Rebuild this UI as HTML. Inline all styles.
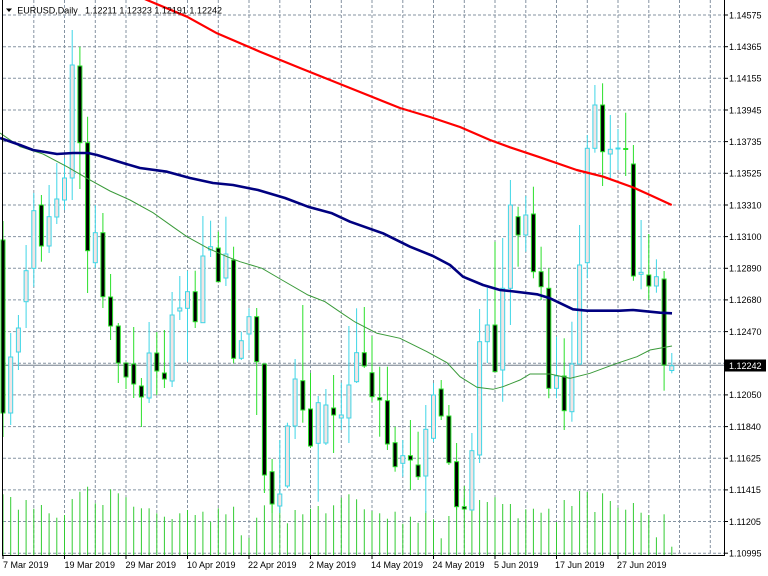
<!DOCTYPE html>
<html><head><meta charset="utf-8"><style>
html,body{margin:0;padding:0;background:#fff;width:768px;height:576px;overflow:hidden}
svg{position:absolute;left:0;top:0;display:block}
text{font-family:"Liberation Sans",sans-serif;font-size:9px;fill:#000}
.g{stroke:#8593a2;stroke-width:1;stroke-dasharray:3 2;fill:none}
.uw{stroke:#3fd6e6;stroke-width:1}
.dw{stroke:#2ae02a;stroke-width:1}
.ub{fill:#f2e4e4;stroke:#3fd6e6;stroke-width:1}
.db{fill:#000;stroke:#2ae02a;stroke-width:1}
.v{stroke:#33cc33;stroke-width:1}
</style></head><body>
<svg width="768" height="576" viewBox="0 0 768 576" xmlns="http://www.w3.org/2000/svg">
<rect x="0" y="0" width="768" height="576" fill="#fff"/>
<!-- horizontal grid -->
<g class="g">
<line x1="3" x2="724" y1="15" y2="15"/>
<line x1="3" x2="724" y1="46.7" y2="46.7"/>
<line x1="3" x2="724" y1="78.3" y2="78.3"/>
<line x1="3" x2="724" y1="110" y2="110"/>
<line x1="3" x2="724" y1="141.6" y2="141.6"/>
<line x1="3" x2="724" y1="173.3" y2="173.3"/>
<line x1="3" x2="724" y1="205" y2="205"/>
<line x1="3" x2="724" y1="236.6" y2="236.6"/>
<line x1="3" x2="724" y1="268.3" y2="268.3"/>
<line x1="3" x2="724" y1="299.9" y2="299.9"/>
<line x1="3" x2="724" y1="331.6" y2="331.6"/>
<line x1="3" x2="724" y1="363.3" y2="363.3"/>
<line x1="3" x2="724" y1="394.9" y2="394.9"/>
<line x1="3" x2="724" y1="426.6" y2="426.6"/>
<line x1="3" x2="724" y1="458.2" y2="458.2"/>
<line x1="3" x2="724" y1="489.9" y2="489.9"/>
<line x1="3" x2="724" y1="521.5" y2="521.5"/>
<line x1="3" x2="724" y1="553.2" y2="553.2"/>
</g>
<!-- vertical grid -->
<g class="g">
<line x1="33.8" x2="33.8" y1="0" y2="555"/>
<line x1="64.5" x2="64.5" y1="0" y2="555"/>
<line x1="95.3" x2="95.3" y1="0" y2="555"/>
<line x1="126" x2="126" y1="0" y2="555"/>
<line x1="156.8" x2="156.8" y1="0" y2="555"/>
<line x1="187.5" x2="187.5" y1="0" y2="555"/>
<line x1="218.3" x2="218.3" y1="0" y2="555"/>
<line x1="249" x2="249" y1="0" y2="555"/>
<line x1="279.8" x2="279.8" y1="0" y2="555"/>
<line x1="310.5" x2="310.5" y1="0" y2="555"/>
<line x1="341.3" x2="341.3" y1="0" y2="555"/>
<line x1="372" x2="372" y1="0" y2="555"/>
<line x1="402.8" x2="402.8" y1="0" y2="555"/>
<line x1="433.5" x2="433.5" y1="0" y2="555"/>
<line x1="464.3" x2="464.3" y1="0" y2="555"/>
<line x1="495" x2="495" y1="0" y2="555"/>
<line x1="525.8" x2="525.8" y1="0" y2="555"/>
<line x1="556.5" x2="556.5" y1="0" y2="555"/>
<line x1="587.3" x2="587.3" y1="0" y2="555"/>
<line x1="618" x2="618" y1="0" y2="555"/>
<line x1="648.8" x2="648.8" y1="0" y2="555"/>
<line x1="679.5" x2="679.5" y1="0" y2="555"/>
<line x1="710.3" x2="710.3" y1="0" y2="555"/>
</g>
<!-- volumes -->
<g class="v">
<line x1="3.0" x2="3.0" y1="555" y2="494.3"/>
<line x1="10.7" x2="10.7" y1="555" y2="497"/>
<line x1="18.4" x2="18.4" y1="555" y2="509.7"/>
<line x1="26.1" x2="26.1" y1="555" y2="500"/>
<line x1="33.8" x2="33.8" y1="555" y2="508.7"/>
<line x1="41.4" x2="41.4" y1="555" y2="505"/>
<line x1="49.1" x2="49.1" y1="555" y2="513.3"/>
<line x1="56.8" x2="56.8" y1="555" y2="517.7"/>
<line x1="64.5" x2="64.5" y1="555" y2="515"/>
<line x1="72.2" x2="72.2" y1="555" y2="499"/>
<line x1="79.9" x2="79.9" y1="555" y2="491.7"/>
<line x1="87.6" x2="87.6" y1="555" y2="486.7"/>
<line x1="95.3" x2="95.3" y1="555" y2="503.3"/>
<line x1="102.9" x2="102.9" y1="555" y2="505"/>
<line x1="110.6" x2="110.6" y1="555" y2="489.3"/>
<line x1="118.3" x2="118.3" y1="555" y2="493.3"/>
<line x1="126.0" x2="126.0" y1="555" y2="497.3"/>
<line x1="133.7" x2="133.7" y1="555" y2="506.7"/>
<line x1="141.4" x2="141.4" y1="555" y2="508.3"/>
<line x1="149.1" x2="149.1" y1="555" y2="508.3"/>
<line x1="156.8" x2="156.8" y1="555" y2="513.3"/>
<line x1="164.4" x2="164.4" y1="555" y2="516.7"/>
<line x1="172.1" x2="172.1" y1="555" y2="519"/>
<line x1="179.8" x2="179.8" y1="555" y2="513.3"/>
<line x1="187.5" x2="187.5" y1="555" y2="510"/>
<line x1="195.2" x2="195.2" y1="555" y2="515"/>
<line x1="202.9" x2="202.9" y1="555" y2="511.7"/>
<line x1="210.6" x2="210.6" y1="555" y2="521.7"/>
<line x1="218.3" x2="218.3" y1="555" y2="508.3"/>
<line x1="225.9" x2="225.9" y1="555" y2="514.3"/>
<line x1="233.6" x2="233.6" y1="555" y2="506.7"/>
<line x1="241.3" x2="241.3" y1="555" y2="535.3"/>
<line x1="249.0" x2="249.0" y1="555" y2="537.7"/>
<line x1="256.7" x2="256.7" y1="555" y2="517.7"/>
<line x1="264.4" x2="264.4" y1="555" y2="505.3"/>
<line x1="272.1" x2="272.1" y1="555" y2="495"/>
<line x1="279.8" x2="279.8" y1="555" y2="508"/>
<line x1="287.4" x2="287.4" y1="555" y2="523.3"/>
<line x1="295.1" x2="295.1" y1="555" y2="510"/>
<line x1="302.8" x2="302.8" y1="555" y2="514.3"/>
<line x1="310.5" x2="310.5" y1="555" y2="508.7"/>
<line x1="318.2" x2="318.2" y1="555" y2="506"/>
<line x1="325.9" x2="325.9" y1="555" y2="513.3"/>
<line x1="333.6" x2="333.6" y1="555" y2="505.3"/>
<line x1="341.3" x2="341.3" y1="555" y2="497.7"/>
<line x1="348.9" x2="348.9" y1="555" y2="494.3"/>
<line x1="356.6" x2="356.6" y1="555" y2="499.3"/>
<line x1="364.3" x2="364.3" y1="555" y2="509.3"/>
<line x1="372.0" x2="372.0" y1="555" y2="511"/>
<line x1="379.7" x2="379.7" y1="555" y2="513.3"/>
<line x1="387.4" x2="387.4" y1="555" y2="518.7"/>
<line x1="395.1" x2="395.1" y1="555" y2="511.7"/>
<line x1="402.8" x2="402.8" y1="555" y2="523.7"/>
<line x1="410.4" x2="410.4" y1="555" y2="516.7"/>
<line x1="418.1" x2="418.1" y1="555" y2="522.7"/>
<line x1="425.8" x2="425.8" y1="555" y2="511"/>
<line x1="433.5" x2="433.5" y1="555" y2="519.3"/>
<line x1="441.2" x2="441.2" y1="555" y2="538.3"/>
<line x1="448.9" x2="448.9" y1="555" y2="516"/>
<line x1="456.6" x2="456.6" y1="555" y2="507.7"/>
<line x1="464.3" x2="464.3" y1="555" y2="486"/>
<line x1="471.9" x2="471.9" y1="555" y2="497.7"/>
<line x1="479.6" x2="479.6" y1="555" y2="500"/>
<line x1="487.3" x2="487.3" y1="555" y2="502"/>
<line x1="495.0" x2="495.0" y1="555" y2="497.3"/>
<line x1="502.7" x2="502.7" y1="555" y2="504"/>
<line x1="510.4" x2="510.4" y1="555" y2="504"/>
<line x1="518.1" x2="518.1" y1="555" y2="518.3"/>
<line x1="525.8" x2="525.8" y1="555" y2="509.3"/>
<line x1="533.4" x2="533.4" y1="555" y2="508.7"/>
<line x1="541.1" x2="541.1" y1="555" y2="512.7"/>
<line x1="548.8" x2="548.8" y1="555" y2="508.7"/>
<line x1="556.5" x2="556.5" y1="555" y2="522"/>
<line x1="564.2" x2="564.2" y1="555" y2="500"/>
<line x1="571.9" x2="571.9" y1="555" y2="506"/>
<line x1="579.6" x2="579.6" y1="555" y2="491"/>
<line x1="587.3" x2="587.3" y1="555" y2="492"/>
<line x1="594.9" x2="594.9" y1="555" y2="512"/>
<line x1="602.6" x2="602.6" y1="555" y2="493.3"/>
<line x1="610.3" x2="610.3" y1="555" y2="501"/>
<line x1="618.0" x2="618.0" y1="555" y2="507.7"/>
<line x1="625.7" x2="625.7" y1="555" y2="509.7"/>
<line x1="633.4" x2="633.4" y1="555" y2="503"/>
<line x1="641.1" x2="641.1" y1="555" y2="512.7"/>
<line x1="648.8" x2="648.8" y1="555" y2="515"/>
<line x1="656.4" x2="656.4" y1="555" y2="537.3"/>
<line x1="664.1" x2="664.1" y1="555" y2="514.3"/>
<line x1="671.8" x2="671.8" y1="555" y2="546.7"/>
</g>
<!-- current price line -->
<line x1="3" x2="724" y1="365.3" y2="365.3" stroke="#98a0aa" stroke-width="1.3"/>
<!-- candles -->
<g>
<line class="dw" x1="3.0" x2="3.0" y1="221" y2="437"/><rect class="db" x="1.0" y="240" width="4" height="173"/>
<line class="uw" x1="10.7" x2="10.7" y1="333" y2="425"/><rect class="ub" x="8.7" y="357" width="4" height="56"/>
<line class="uw" x1="18.4" x2="18.4" y1="315" y2="370"/><rect class="ub" x="16.4" y="328" width="4" height="24"/>
<line class="uw" x1="26.1" x2="26.1" y1="245" y2="328"/><rect class="ub" x="24.1" y="270.7" width="4" height="31"/>
<line class="uw" x1="33.8" x2="33.8" y1="193" y2="286.7"/><rect class="ub" x="31.8" y="210.7" width="4" height="57.6"/>
<line class="dw" x1="41.4" x2="41.4" y1="195" y2="261.7"/><rect class="db" x="39.4" y="205" width="4" height="41"/>
<line class="uw" x1="49.1" x2="49.1" y1="185" y2="253"/><rect class="ub" x="47.1" y="216.7" width="4" height="29.3"/>
<line class="uw" x1="56.8" x2="56.8" y1="163" y2="224"/><rect class="ub" x="54.8" y="199" width="4" height="18"/>
<line class="uw" x1="64.5" x2="64.5" y1="158" y2="210"/><rect class="ub" x="62.5" y="178" width="4" height="22"/>
<line class="uw" x1="72.2" x2="72.2" y1="30" y2="200"/><rect class="ub" x="70.2" y="65" width="4" height="113"/>
<line class="dw" x1="79.9" x2="79.9" y1="46.7" y2="189"/><rect class="db" x="77.9" y="66" width="4" height="76.7"/>
<line class="dw" x1="87.6" x2="87.6" y1="116.7" y2="293"/><rect class="db" x="85.6" y="142.7" width="4" height="108"/>
<line class="uw" x1="95.3" x2="95.3" y1="205" y2="268"/><rect class="ub" x="93.3" y="232.7" width="4" height="30"/>
<line class="dw" x1="102.9" x2="102.9" y1="213" y2="308"/><rect class="db" x="100.9" y="232.7" width="4" height="64"/>
<line class="dw" x1="110.6" x2="110.6" y1="274" y2="340"/><rect class="db" x="108.6" y="297" width="4" height="29"/>
<line class="dw" x1="118.3" x2="118.3" y1="323" y2="383"/><rect class="db" x="116.3" y="326" width="4" height="37"/>
<line class="dw" x1="126.0" x2="126.0" y1="363" y2="389"/><rect class="db" x="124.0" y="363" width="4" height="14"/>
<line class="dw" x1="133.7" x2="133.7" y1="327" y2="398"/><rect class="db" x="131.7" y="364" width="4" height="20"/>
<line class="dw" x1="141.4" x2="141.4" y1="378" y2="427"/><rect class="db" x="139.4" y="386" width="4" height="11"/>
<line class="uw" x1="149.1" x2="149.1" y1="322" y2="403"/><rect class="ub" x="147.1" y="353" width="4" height="45"/>
<line class="dw" x1="156.8" x2="156.8" y1="332" y2="395"/><rect class="db" x="154.8" y="353" width="4" height="18"/>
<line class="dw" x1="164.4" x2="164.4" y1="330" y2="388"/><rect class="db" x="162.4" y="373" width="4" height="6"/>
<line class="uw" x1="172.1" x2="172.1" y1="292" y2="387"/><rect class="ub" x="170.1" y="315" width="4" height="66"/>
<line class="uw" x1="179.8" x2="179.8" y1="276" y2="320"/><rect class="ub" x="177.8" y="308" width="4" height="3"/>
<line class="uw" x1="187.5" x2="187.5" y1="270.7" y2="361.7"/><rect class="ub" x="185.5" y="291.7" width="4" height="16.6"/>
<line class="dw" x1="195.2" x2="195.2" y1="270.7" y2="328"/><rect class="db" x="193.2" y="291.7" width="4" height="30"/>
<line class="uw" x1="202.9" x2="202.9" y1="216" y2="323"/><rect class="ub" x="200.9" y="256" width="4" height="66.7"/>
<line class="uw" x1="210.6" x2="210.6" y1="220.7" y2="257"/><rect class="ub" x="208.6" y="246.7" width="4" height="3.3"/>
<line class="dw" x1="218.3" x2="218.3" y1="231.7" y2="281.7"/><rect class="db" x="216.3" y="248" width="4" height="33.7"/>
<line class="uw" x1="225.9" x2="225.9" y1="216.7" y2="286"/><rect class="ub" x="223.9" y="254" width="4" height="24"/>
<line class="dw" x1="233.6" x2="233.6" y1="246.7" y2="363.3"/><rect class="db" x="231.6" y="260" width="4" height="98.3"/>
<line class="uw" x1="241.3" x2="241.3" y1="331.7" y2="360"/><rect class="ub" x="239.3" y="340.7" width="4" height="17.6"/>
<line class="uw" x1="249.0" x2="249.0" y1="308.3" y2="350"/><rect class="ub" x="247.0" y="316.7" width="4" height="17.3"/>
<line class="dw" x1="256.7" x2="256.7" y1="308" y2="415"/><rect class="db" x="254.7" y="316.7" width="4" height="45"/>
<line class="dw" x1="264.4" x2="264.4" y1="364" y2="493"/><rect class="db" x="262.4" y="364" width="4" height="111"/>
<line class="dw" x1="272.1" x2="272.1" y1="459" y2="513"/><rect class="db" x="270.1" y="471.7" width="4" height="32.3"/>
<line class="uw" x1="279.8" x2="279.8" y1="440" y2="513"/><rect class="ub" x="277.8" y="494" width="4" height="12"/>
<line class="uw" x1="287.4" x2="287.4" y1="422.7" y2="488"/><rect class="ub" x="285.4" y="426" width="4" height="60"/>
<line class="uw" x1="295.1" x2="295.1" y1="359" y2="439"/><rect class="ub" x="293.1" y="379" width="4" height="47"/>
<line class="dw" x1="302.8" x2="302.8" y1="305" y2="422.7"/><rect class="db" x="300.8" y="380.7" width="4" height="29.3"/>
<line class="dw" x1="310.5" x2="310.5" y1="373" y2="448"/><rect class="db" x="308.5" y="409" width="4" height="37"/>
<line class="uw" x1="318.2" x2="318.2" y1="396" y2="501.7"/><rect class="ub" x="316.2" y="402.7" width="4" height="40.6"/>
<line class="uw" x1="325.9" x2="325.9" y1="389" y2="445"/><rect class="ub" x="323.9" y="405" width="4" height="38"/>
<line class="dw" x1="333.6" x2="333.6" y1="375" y2="453"/><rect class="db" x="331.6" y="408" width="4" height="7"/>
<line class="uw" x1="341.3" x2="341.3" y1="382.7" y2="430"/><rect class="ub" x="339.3" y="415" width="4" height="3"/>
<line class="uw" x1="348.9" x2="348.9" y1="326" y2="443"/><rect class="ub" x="346.9" y="385" width="4" height="33"/>
<line class="uw" x1="356.6" x2="356.6" y1="308.3" y2="383"/><rect class="ub" x="354.6" y="352.7" width="4" height="29"/>
<line class="dw" x1="364.3" x2="364.3" y1="307" y2="368"/><rect class="db" x="362.3" y="352.7" width="4" height="13.3"/>
<line class="dw" x1="372.0" x2="372.0" y1="336" y2="401.7"/><rect class="db" x="370.0" y="372.7" width="4" height="24"/>
<line class="dw" x1="379.7" x2="379.7" y1="366.7" y2="436.7"/><rect class="db" x="377.7" y="397.7" width="4" height="2.3"/>
<line class="dw" x1="387.4" x2="387.4" y1="366.7" y2="450"/><rect class="db" x="385.4" y="400.7" width="4" height="43.3"/>
<line class="dw" x1="395.1" x2="395.1" y1="426.7" y2="471.7"/><rect class="db" x="393.1" y="442.7" width="4" height="24"/>
<line class="uw" x1="402.8" x2="402.8" y1="440" y2="476.7"/><rect class="ub" x="400.8" y="455.7" width="4" height="7.6"/>
<line class="dw" x1="410.4" x2="410.4" y1="420" y2="490"/><rect class="db" x="408.4" y="455.7" width="4" height="4.3"/>
<line class="dw" x1="418.1" x2="418.1" y1="431.7" y2="480"/><rect class="db" x="416.1" y="465" width="4" height="11.7"/>
<line class="uw" x1="425.8" x2="425.8" y1="405" y2="513"/><rect class="ub" x="423.8" y="429.3" width="4" height="46.7"/>
<line class="uw" x1="433.5" x2="433.5" y1="383" y2="441.7"/><rect class="ub" x="431.5" y="395" width="4" height="43.3"/>
<line class="dw" x1="441.2" x2="441.2" y1="380" y2="420"/><rect class="db" x="439.2" y="389" width="4" height="27"/>
<line class="dw" x1="448.9" x2="448.9" y1="405" y2="465"/><rect class="db" x="446.9" y="416" width="4" height="46.7"/>
<line class="dw" x1="456.6" x2="456.6" y1="443" y2="510"/><rect class="db" x="454.6" y="461.7" width="4" height="45"/>
<line class="dw" x1="464.3" x2="464.3" y1="498" y2="510"/><rect class="db" x="462.3" y="506.7" width="4" height="2.3"/>
<line class="uw" x1="471.9" x2="471.9" y1="433" y2="510.7"/><rect class="ub" x="469.9" y="450.7" width="4" height="59.3"/>
<line class="uw" x1="479.6" x2="479.6" y1="309" y2="463"/><rect class="ub" x="477.6" y="341.7" width="4" height="113.3"/>
<line class="uw" x1="487.3" x2="487.3" y1="288" y2="363"/><rect class="ub" x="485.3" y="325" width="4" height="16.7"/>
<line class="dw" x1="495.0" x2="495.0" y1="241.7" y2="371.7"/><rect class="db" x="493.0" y="325" width="4" height="46.7"/>
<line class="uw" x1="502.7" x2="502.7" y1="238" y2="401.7"/><rect class="ub" x="500.7" y="288.3" width="4" height="81.7"/>
<line class="uw" x1="510.4" x2="510.4" y1="180" y2="325"/><rect class="ub" x="508.4" y="205" width="4" height="83.3"/>
<line class="dw" x1="518.1" x2="518.1" y1="206.7" y2="266.7"/><rect class="db" x="516.1" y="216.7" width="4" height="18.3"/>
<line class="uw" x1="525.8" x2="525.8" y1="196" y2="251.7"/><rect class="ub" x="523.8" y="215" width="4" height="20"/>
<line class="dw" x1="533.4" x2="533.4" y1="186.7" y2="278.3"/><rect class="db" x="531.4" y="214" width="4" height="57.7"/>
<line class="dw" x1="541.1" x2="541.1" y1="246.7" y2="300"/><rect class="db" x="539.1" y="271.7" width="4" height="15"/>
<line class="dw" x1="548.8" x2="548.8" y1="268.3" y2="398.3"/><rect class="db" x="546.8" y="288.3" width="4" height="100"/>
<line class="uw" x1="556.5" x2="556.5" y1="336.7" y2="398.3"/><rect class="ub" x="554.5" y="376" width="4" height="12.3"/>
<line class="dw" x1="564.2" x2="564.2" y1="338.3" y2="430"/><rect class="db" x="562.2" y="376" width="4" height="34.7"/>
<line class="uw" x1="571.9" x2="571.9" y1="321.7" y2="421.7"/><rect class="ub" x="569.9" y="364" width="4" height="47.7"/>
<line class="uw" x1="579.6" x2="579.6" y1="225" y2="364"/><rect class="ub" x="577.6" y="265" width="4" height="99"/>
<line class="uw" x1="587.3" x2="587.3" y1="135" y2="278.3"/><rect class="ub" x="585.3" y="148.3" width="4" height="114.4"/>
<line class="uw" x1="594.9" x2="594.9" y1="85" y2="152.7"/><rect class="ub" x="592.9" y="105" width="4" height="43.3"/>
<line class="dw" x1="602.6" x2="602.6" y1="83.3" y2="186"/><rect class="db" x="600.6" y="105" width="4" height="46.7"/>
<line class="uw" x1="610.3" x2="610.3" y1="115" y2="178.3"/><rect class="ub" x="608.3" y="149.3" width="4" height="4.7"/>
<line class="uw" x1="618.0" x2="618.0" y1="129" y2="170"/><rect class="ub" x="616.0" y="148" width="4" height="1"/>
<line class="dw" x1="625.7" x2="625.7" y1="112.7" y2="176"/><rect class="db" x="623.7" y="148.5" width="4" height="1"/>
<line class="dw" x1="633.4" x2="633.4" y1="145" y2="280.7"/><rect class="db" x="631.4" y="164" width="4" height="112"/>
<line class="uw" x1="641.1" x2="641.1" y1="220" y2="289.3"/><rect class="ub" x="639.1" y="272.3" width="4" height="2"/>
<line class="dw" x1="648.8" x2="648.8" y1="234" y2="300"/><rect class="db" x="646.8" y="275" width="4" height="11"/>
<line class="uw" x1="656.4" x2="656.4" y1="259.3" y2="292.7"/><rect class="ub" x="654.4" y="276.7" width="4" height="9.3"/>
<line class="dw" x1="664.1" x2="664.1" y1="271" y2="390.7"/><rect class="db" x="662.1" y="279" width="4" height="86"/>
<line class="uw" x1="671.8" x2="671.8" y1="353" y2="373.3"/><rect class="ub" x="669.8" y="365.8" width="4" height="4.7"/>
</g>
<!-- moving averages -->
<polyline fill="none" stroke="#3a9a3a" stroke-width="1" points="0,133 20,146.7 43,154 67,166.7 87,178.3 110,191 130,200 153,212.7 175,228.3 187,236.7 208,248.3 227,256.7 240,261.7 262,268.3 282,280 308,295 325,301.7 342,313.3 355,322 377,333.3 400,338.3 427,351.7 447,362.7 460,376.7 477,387.3 493,389.3 503,386.7 520,380 530,374 550,374 570,378.3 590,373.3 617,363.3 637,356.7 650,350 672,346"/>
<polyline fill="none" stroke="#000080" stroke-width="2.6" stroke-linejoin="round" points="0,138 20,145 33,150 57,154 73,153 88,153 97,155 110,159 123,163 140,168 167,171.7 190,178 213,183 233,185 258,190 285,198 308,206.7 332,213.3 350,221.7 383,233.3 410,246.7 433,256 450,265 463,276.7 483,285 500,290 510,291 537,294.3 550,298.3 573,309.3 587,310.7 620,310.7 633,310 660,312.7 672,313.3"/>
<polyline fill="none" stroke="#ff0000" stroke-width="2.2" stroke-linejoin="round" points="131,-7 147,0 187,16.7 217,33.3 260,51.7 300,68 350,88 400,108 430,117 460,127 490,140 510,147.3 540,157.3 576.7,170 603.3,176.7 633.3,187.5 650,195 671.7,205"/>
<!-- frame -->
<line x1="2.5" x2="2.5" y1="0" y2="556" stroke="#000" stroke-width="1"/>
<line x1="2" x2="724.5" y1="555.5" y2="555.5" stroke="#000" stroke-width="1"/>
<line x1="724.5" x2="724.5" y1="0" y2="556" stroke="#000" stroke-width="1"/>
<!-- price axis ticks -->
<g stroke="#000" stroke-width="1">
<line x1="724" x2="728" y1="15" y2="15"/>
<line x1="724" x2="728" y1="46.7" y2="46.7"/>
<line x1="724" x2="728" y1="78.3" y2="78.3"/>
<line x1="724" x2="728" y1="110" y2="110"/>
<line x1="724" x2="728" y1="141.6" y2="141.6"/>
<line x1="724" x2="728" y1="173.3" y2="173.3"/>
<line x1="724" x2="728" y1="205" y2="205"/>
<line x1="724" x2="728" y1="236.6" y2="236.6"/>
<line x1="724" x2="728" y1="268.3" y2="268.3"/>
<line x1="724" x2="728" y1="299.9" y2="299.9"/>
<line x1="724" x2="728" y1="331.6" y2="331.6"/>
<line x1="724" x2="728" y1="394.9" y2="394.9"/>
<line x1="724" x2="728" y1="426.6" y2="426.6"/>
<line x1="724" x2="728" y1="458.2" y2="458.2"/>
<line x1="724" x2="728" y1="489.9" y2="489.9"/>
<line x1="724" x2="728" y1="521.5" y2="521.5"/>
<line x1="724" x2="728" y1="553.2" y2="553.2"/>
</g>
<!-- price labels -->
<g>
<text x="729" y="18.3">1.14575</text>
<text x="729" y="50">1.14365</text>
<text x="729" y="81.6">1.14155</text>
<text x="729" y="113.3">1.13945</text>
<text x="729" y="144.9">1.13735</text>
<text x="729" y="176.6">1.13525</text>
<text x="729" y="208.3">1.13310</text>
<text x="729" y="239.9">1.13100</text>
<text x="729" y="271.6">1.12890</text>
<text x="729" y="303.2">1.12680</text>
<text x="729" y="334.9">1.12470</text>
<text x="729" y="398.2">1.12050</text>
<text x="729" y="429.9">1.11840</text>
<text x="729" y="461.5">1.11625</text>
<text x="729" y="493.2">1.11415</text>
<text x="729" y="524.8">1.11205</text>
<text x="729" y="556.5">1.10995</text>
</g>
<rect x="725" y="359.5" width="41" height="12" fill="#000"/>
<text x="729" y="369" style="fill:#fff">1.12242</text>
<!-- date ticks -->
<g stroke="#000" stroke-width="1">
<line x1="3" x2="3" y1="555" y2="559"/>
<line x1="64.5" x2="64.5" y1="555" y2="559"/>
<line x1="126" x2="126" y1="555" y2="559"/>
<line x1="187.5" x2="187.5" y1="555" y2="559"/>
<line x1="249" x2="249" y1="555" y2="559"/>
<line x1="310.5" x2="310.5" y1="555" y2="559"/>
<line x1="372" x2="372" y1="555" y2="559"/>
<line x1="433.5" x2="433.5" y1="555" y2="559"/>
<line x1="495" x2="495" y1="555" y2="559"/>
<line x1="556.5" x2="556.5" y1="555" y2="559"/>
<line x1="618" x2="618" y1="555" y2="559"/>
</g>
<g>
<text x="3" y="568">7 Mar 2019</text>
<text x="64.5" y="568">19 Mar 2019</text>
<text x="125.5" y="568">29 Mar 2019</text>
<text x="187" y="568">10 Apr 2019</text>
<text x="248" y="568">22 Apr 2019</text>
<text x="309" y="568">2 May 2019</text>
<text x="371" y="568">14 May 2019</text>
<text x="432.5" y="568">24 May 2019</text>
<text x="494" y="568">5 Jun 2019</text>
<text x="555" y="568">17 Jun 2019</text>
<text x="617" y="568">27 Jun 2019</text>
</g>
<!-- title -->
<polygon points="6,8.5 12,8.5 9,12" fill="#000"/>
<text x="17.3" y="13.3">EURUSD,Daily</text>
<text x="85" y="13.3">1.12211 1.12323 1.12191 1.12242</text>
</svg>
</body></html>
